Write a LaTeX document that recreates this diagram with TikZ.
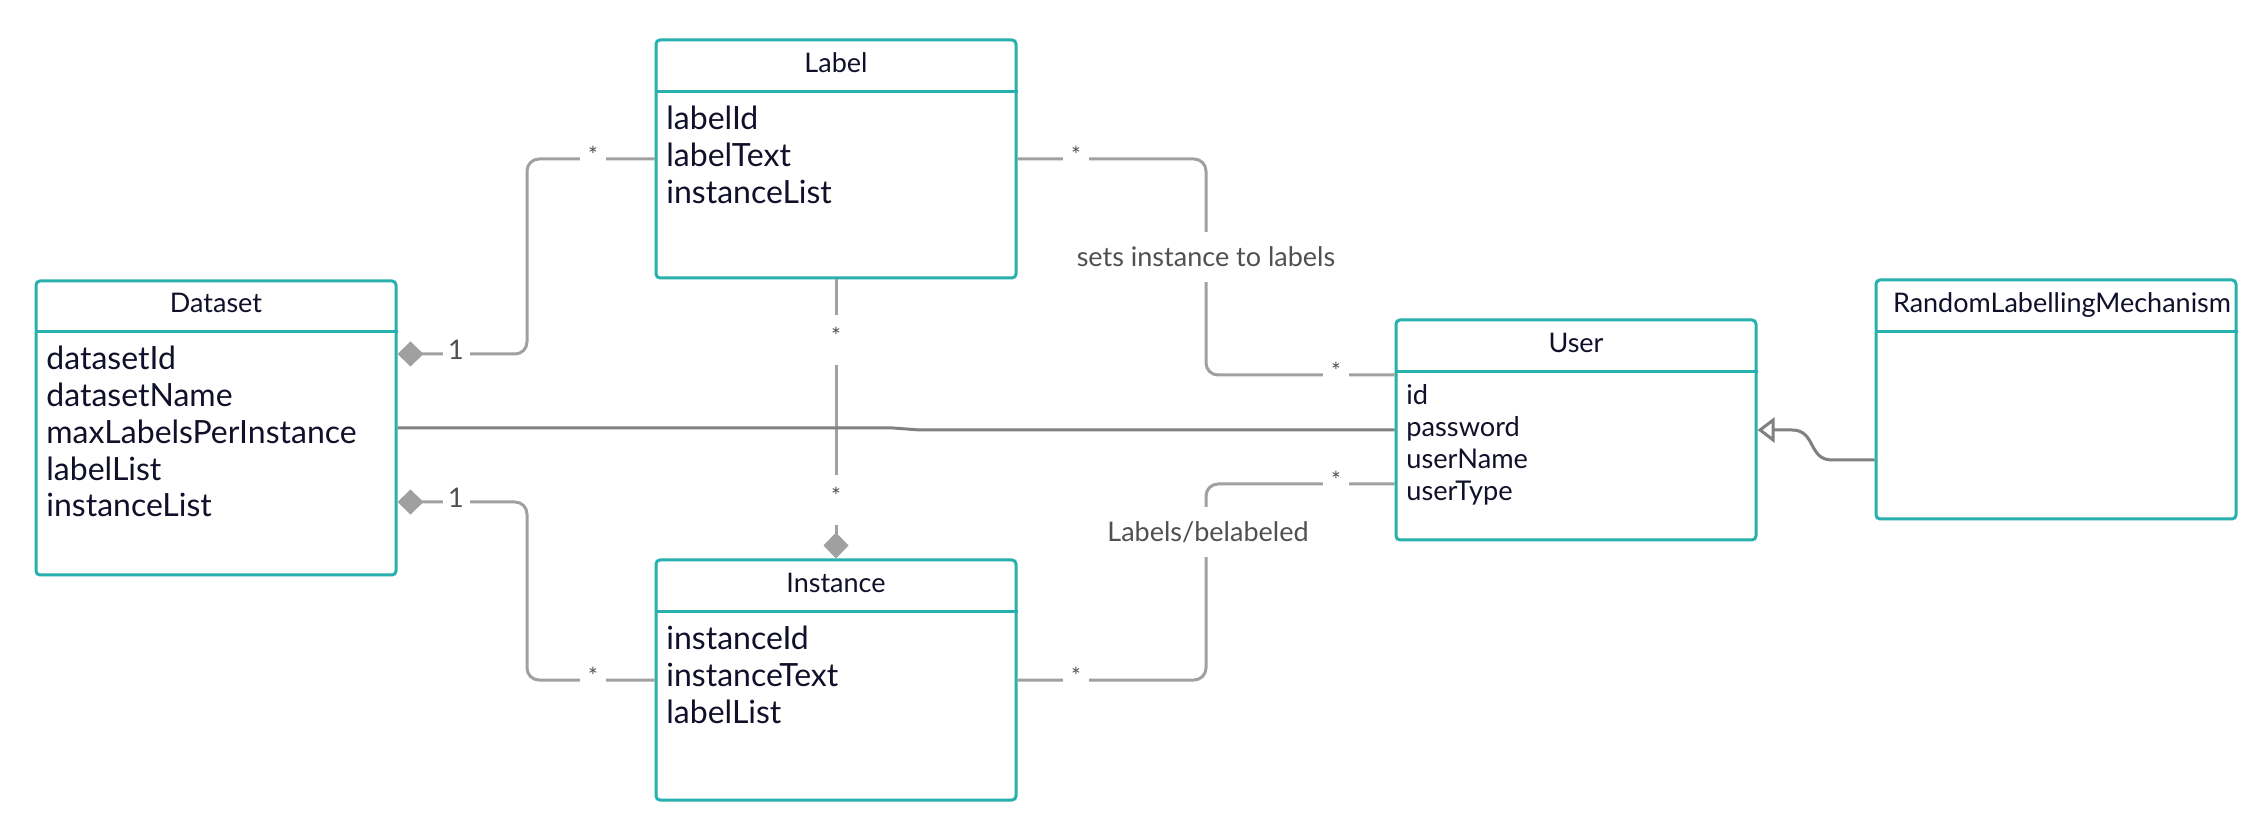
\documentclass[tikz,border=0pt]{standalone}
\usepackage{fontspec}
\setmainfont{Lato}
\usetikzlibrary{arrows.meta}
\definecolor{clsborder}{RGB}{40,176,172}
\definecolor{txt}{RGB}{16,16,42}
\definecolor{connA}{RGB}{160,160,160}
\definecolor{connB}{RGB}{128,128,128}
\definecolor{lab}{RGB}{80,80,80}
\begin{document}
\begin{tikzpicture}[x=0.5pt,y=-0.5pt,
  cls/.style={draw=clsborder,line width=1.5pt,rounded corners=2pt,fill=white,inner sep=0,minimum width=180pt},
  sepline/.style={draw=clsborder,line width=1.5pt},
  title/.style={anchor=base,text=txt,inner sep=0,font=\fontsize{13.5}{16}\selectfont},
  attr/.style={anchor=base west,text=txt,inner sep=0,font=\fontsize{16}{19}\selectfont},
  uattr/.style={anchor=base west,text=txt,inner sep=0,font=\fontsize{13.6}{16}\selectfont},
  conn/.style={draw=connA,line width=1.5pt,rounded corners=6pt},
  dconn/.style={draw=connB,line width=1.5pt},
  comp/.style={{Diamond[length=13pt,width=12.5pt]}-},
  gen/.style={-{Triangle[open,length=8.5pt,width=12.5pt,fill=white]}},
  mult/.style={fill=white,text=lab,inner sep=0,minimum width=13pt,minimum height=25pt,text depth=4.4pt,font=\fontsize{11.5}{13}\selectfont},
  one/.style={fill=white,text=lab,inner sep=0,minimum width=13.5pt,minimum height=16pt,text depth=4pt,font=\fontsize{13.5}{15}\selectfont},
  rel/.style={fill=white,text=lab,inner sep=0,inner xsep=2pt,minimum height=25pt,font=\fontsize{13.5}{16}\selectfont},
]
\useasboundingbox (0,0) rectangle (2247,838);
\fill[white] (0,0) rectangle (2247,838);

% classes
\node[cls,minimum height=147pt] (dataset) at (216,428) {};
\draw[sepline] (dataset.west |- 0,332) -- (dataset.east |- 0,332);
\node[title] (datasetT) at (216,313) {Dataset};
\foreach [count=\i] \t in {datasetId,datasetName,maxLabelsPerInstance,labelList,instanceList}
  \node[attr] (dsA\i) at (46,{370+36.7*(\i-1)}) {\t};

\node[cls,minimum height=119pt] (label) at (836,159) {};
\draw[sepline] (label.west |- 0,92) -- (label.east |- 0,92);
\node[title] (labelT) at (836,73) {Label};
\foreach [count=\i] \t in {labelId,labelText,instanceList}
  \node[attr] (lbA\i) at (666,{130+36.7*(\i-1)}) {\t};

\node[cls,minimum height=120pt] (instance) at (836,680) {};
\draw[sepline] (instance.west |- 0,612) -- (instance.east |- 0,612);
\node[title] (instanceT) at (836,593) {Instance};
\foreach [count=\i] \t in {instanceId,instanceText,labelList}
  \node[attr] (inA\i) at (666,{650+36.7*(\i-1)}) {\t};

\node[cls,minimum height=110pt] (user) at (1576,430) {};
\draw[sepline] (user.west |- 0,372) -- (user.east |- 0,372);
\node[title] (userT) at (1576,353) {User};
\foreach [count=\i] \t in {id,password,userName,userType}
  \node[uattr] (usA\i) at (1406,{405+31.7*(\i-1)}) {\t};

\node[cls,minimum height=119.5pt] (rlm) at (2056,399.5) {};
\draw[sepline] (rlm.west |- 0,332) -- (rlm.east |- 0,332);
\node[title] (rlmT) at (2062,313) {RandomLabellingMechanism};

% connectors
\draw[conn,comp] (dataset.east |- 0,354) -- (527,354) -- (527,159) -- (label.west);
\draw[conn,comp] (dataset.east |- 0,502) -- (527,502) -- (527,680) -- (instance.west);
\draw[conn,comp] (instance.north) -- (label.south);
\draw[conn] (label.east) -- (1206,159) -- (1206,375) -- (user.west |- 0,375);
\draw[conn] (instance.east) -- (1206,680) -- (1206,484) -- (user.west |- 0,484);
\draw[dconn] (dataset.east) -- (893,428) -- (920,430) -- (user.west);
\draw[dconn,gen] (rlm.west |- 0,460) -- (1832,460) .. controls (1808,460) and (1816,430) .. (1792,430) -- (user.east);

% multiplicities and labels
\node[one] (m1) at (456,354) {1};
\node[one] (m2) at (456,502) {1};
\node[mult] (m3) at (593,159) {*};
\node[mult] (m4) at (593,680) {*};
\node[mult] (m5) at (836,340) {*};
\node[mult] (m6) at (836,500) {*};
\node[mult] (m7) at (1076,159) {*};
\node[mult] (m8) at (1076,680) {*};
\node[mult] (m9) at (1336,375) {*};
\node[mult] (m10) at (1336,484) {*};
\node[rel] (r1) at (1206,257) {sets instance to labels};
\node[rel] (r2) at (1208,532) {Labels/belabeled};
\end{tikzpicture}
\end{document}
